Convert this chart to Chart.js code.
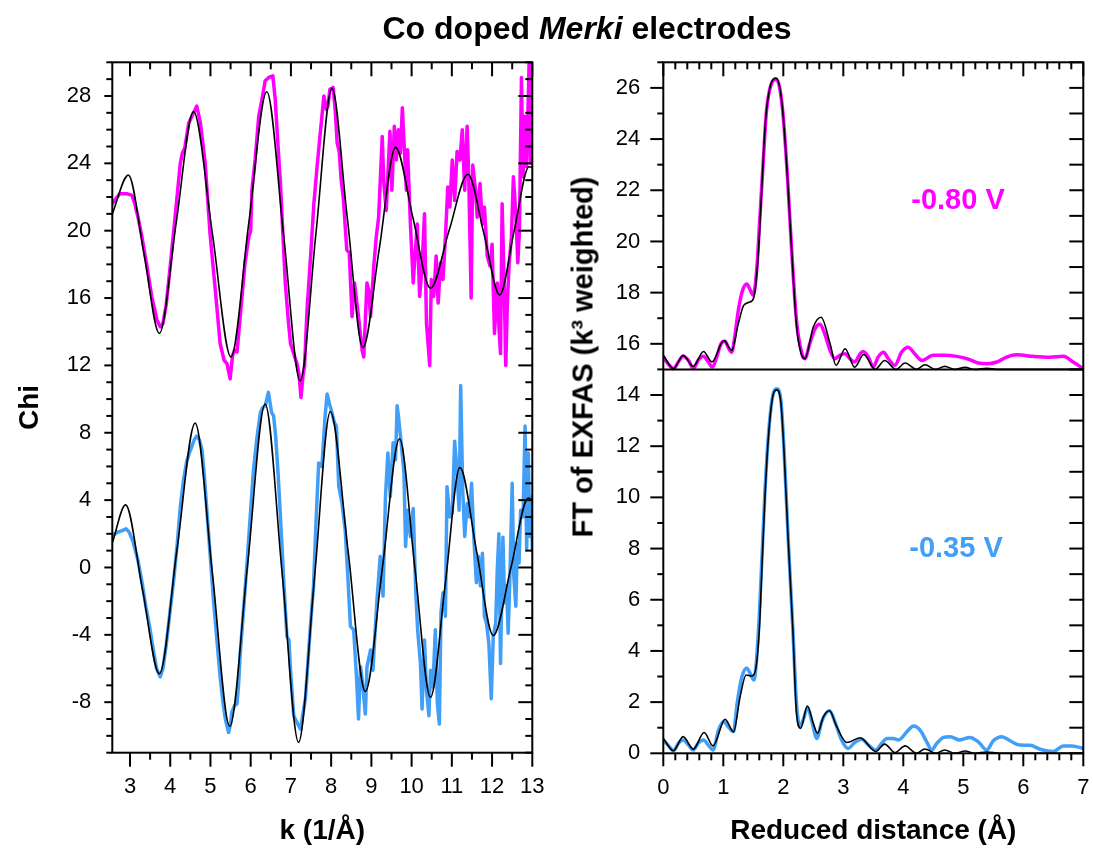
<!DOCTYPE html>
<html><head><meta charset="utf-8">
<script src="https://cdn.jsdelivr.net/npm/chart.js@4.4.1/dist/chart.umd.min.js"></script>
<style>
html,body{margin:0;padding:0;background:#fff;}
#wrap{position:relative;width:1093px;height:848px;overflow:hidden;background:#fff;font-family:'Liberation Sans',Arial,sans-serif;color:#000;}
canvas{position:absolute;top:0;}
#title{position:absolute;left:587px;top:28px;transform:translate(-50%,-50%);font-weight:bold;font-size:32px;white-space:nowrap;}
.lbl{position:absolute;transform:translate(-50%,-50%);font-weight:bold;white-space:nowrap;}
#ftlab{position:absolute;left:583px;top:357px;transform:translate(-50%,-50%) rotate(-90deg);font-weight:bold;font-size:29px;white-space:nowrap;}
</style></head><body>
<div id="wrap">
<canvas id="cL" width="600" height="848" style="left:0;width:600px;height:848px"></canvas>
<canvas id="cR" width="580" height="848" style="left:560px;width:580px;height:848px"></canvas>
<div id="title">Co doped <i>Merki</i> electrodes</div>
<div id="ftlab">FT of EXFAS (k³ weighted)</div>
<div class="lbl" style="left:958px;top:199px;color:#ff00ff;font-size:29px">-0.80 V</div>
<div class="lbl" style="left:956px;top:547px;color:#419ff7;font-size:29px">-0.35 V</div>
</div>
<script>
// ---------- Left panel: Chi(k) ----------
const kTicks = [3,4,5,6,7,8,9,10,11,12,13];
const chiTicks = [-8,-4,0,4,8,12,16,20,24,28];

const kFitMag   = [2.56,2.96,3.35,3.73,4.15,4.58,5.05,5.51,5.95,6.40,6.82,7.23,7.62,8.02,8.40,8.79,9.20,9.60,10.03,10.47,10.93,11.40,11.80,12.19,12.55,12.92,13.0];
const chiFitMag = [21.0,23.3,18.6,13.9,20.5,27.06,19.8,12.5,20.4,28.25,19.7,11.08,19.8,28.45,20.8,13.06,19.0,24.95,20.8,16.58,20.0,23.35,19.8,16.18,20.0,23.8,23.75];

const kFitBlue   = [2.56,2.89,3.31,3.73,4.17,4.62,5.05,5.48,5.92,6.36,6.78,7.19,7.59,7.98,8.42,8.85,9.28,9.70,10.08,10.47,10.84,11.20,11.62,12.03,12.47,12.90,13.0];
const chiFitBlue = [1.45,3.72,-1.3,-6.31,1.1,8.57,-0.4,-9.43,0.1,9.7,-0.3,-10.38,-0.5,9.26,1.0,-7.36,0.1,7.64,0.0,-7.71,-0.9,5.93,0.9,-4.04,0.0,4.12,4.0];

const kMag = [2.56,2.65,2.75,2.92,3.05,3.12,3.2,3.3,3.42,3.54,3.67,3.75,3.82,3.9,4.0,4.12,4.25,4.3,4.36,4.46,4.58,4.66,4.75,4.87,4.99,5.12,5.24,5.34,5.41,5.49,5.55,5.6,5.66,5.74,5.86,5.95,6.0,6.03,6.11,6.2,6.28,6.36,6.45,6.55,6.61,6.68,6.74,6.8,6.86,6.93,6.99,7.07,7.15,7.2,7.25,7.3,7.34,7.4,7.49,7.57,7.65,7.73,7.82,7.88,7.92,7.97,8.05,8.1,8.15,8.2,8.25,8.3,8.39,8.45,8.52,8.58,8.64,8.68,8.77,8.81,8.89,8.93,8.98,9.06,9.12,9.18,9.27,9.31,9.37,9.46,9.51,9.57,9.62,9.67,9.72,9.77,9.82,9.87,9.9,9.97,10.04,10.14,10.2,10.26,10.32,10.37,10.45,10.49,10.55,10.61,10.66,10.72,10.78,10.84,10.9,10.95,11.01,11.07,11.13,11.2,11.26,11.32,11.38,11.42,11.48,11.52,11.59,11.63,11.7,11.76,11.81,11.88,11.95,12.0,12.06,12.13,12.17,12.21,12.25,12.3,12.34,12.38,12.42,12.48,12.53,12.59,12.64,12.68,12.73,12.77,12.81,12.86,12.92,12.96,13.0];
const chiMag = [21.6,21.9,22.2,22.2,22.1,21.6,20.8,19.6,17.9,16.1,14.7,14.3,14.5,15.6,17.9,20.8,24.0,24.6,24.9,26.4,27.0,27.4,26.4,24.0,19.8,16.5,13.3,12.3,12.1,11.2,12.6,12.9,12.8,14.9,18.1,19.6,20.0,22.4,24.2,26.8,27.8,28.9,29.1,29.2,27.8,25.0,22.8,19.8,16.9,14.8,13.3,12.7,12.1,11.5,10.1,11.4,12.0,15.3,18.5,21.6,23.8,25.8,28.0,27.2,27.4,28.4,28.5,27.2,25.2,24.7,23.0,22.0,18.85,18.7,14.9,16.9,15.7,14.9,12.9,12.5,16.9,16.5,14.9,17.9,19.6,20.8,25.6,22.8,21.2,25.9,22.4,26.2,24.2,26.0,24.6,27.3,24.8,22.4,24.8,20.4,16.9,20.4,16.1,17.9,21.0,14.5,12.0,17.1,16.1,18.5,15.7,18.1,17.1,19.6,22.6,21.4,24.2,21.8,24.7,24.2,26.0,22.4,26.2,23.2,16.0,23.9,22.4,20.8,22.8,20.4,21.4,18.5,17.9,19.2,13.9,16.9,14.3,12.7,21.6,16.9,12.0,15.7,17.9,19.6,23.2,21.0,18.1,20.0,29.1,23.2,26.8,23.8,29.9,24.0,30.0];

const kBlue = [2.56,2.7,2.82,2.9,2.98,3.08,3.2,3.3,3.4,3.48,3.58,3.66,3.75,3.82,3.9,4.0,4.08,4.17,4.25,4.33,4.41,4.49,4.54,4.6,4.66,4.72,4.79,4.85,4.91,5.0,5.08,5.16,5.24,5.31,5.37,5.45,5.5,5.53,5.6,5.66,5.7,5.74,5.82,5.91,5.99,6.07,6.15,6.24,6.3,6.36,6.44,6.52,6.57,6.62,6.68,6.74,6.82,6.9,6.95,6.99,7.07,7.15,7.24,7.29,7.36,7.44,7.5,7.56,7.62,7.69,7.77,7.85,7.9,7.96,8.02,8.08,8.13,8.19,8.27,8.35,8.42,8.48,8.56,8.63,8.68,8.73,8.79,8.85,8.89,8.98,9.04,9.07,9.14,9.22,9.29,9.35,9.41,9.47,9.54,9.6,9.64,9.68,9.74,9.81,9.85,9.9,9.97,10.04,10.1,10.15,10.22,10.26,10.32,10.37,10.43,10.47,10.53,10.59,10.64,10.69,10.73,10.78,10.84,10.88,10.95,11.01,11.07,11.12,11.18,11.22,11.27,11.32,11.38,11.44,11.49,11.55,11.61,11.66,11.71,11.76,11.81,11.86,11.92,11.98,12.03,12.09,12.13,12.17,12.21,12.27,12.31,12.36,12.4,12.44,12.5,12.54,12.59,12.63,12.67,12.71,12.77,12.82,12.86,12.9,12.94,12.98,13.0];
const chiBlue = [1.9,2.1,2.2,2.3,2.1,1.5,0.4,-0.9,-2.4,-3.4,-4.9,-6.0,-6.5,-6.0,-4.6,-2.5,-0.9,1.3,3.6,5.2,6.3,6.9,7.2,7.6,7.8,7.6,7.0,5.4,3.4,0.5,-2.1,-4.3,-6.5,-8.0,-9.0,-9.8,-9.3,-8.6,-8.2,-8.1,-6.9,-5.1,-2.6,0.3,3.1,5.8,7.6,9.2,9.5,9.6,10.4,9.2,9.0,7.8,5.6,3.0,-0.7,-4.1,-4.3,-6.1,-8.8,-9.2,-9.6,-8.8,-7.8,-5.0,-3.0,-1.2,2.5,6.2,6.0,9.0,10.3,9.7,9.2,8.6,8.4,4.8,3.8,2.2,-0.8,-3.5,-3.7,-6.5,-9.0,-5.9,-7.1,-8.7,-5.9,-4.9,-6.1,-4.7,-1.9,0.66,-1.7,4.2,6.8,4.2,7.4,6.4,9.6,8.8,7.4,5.6,1.25,3.4,1.84,3.5,-1.3,-3.7,-5.7,-8.4,-4.3,-7.3,-8.8,-6.1,-7.1,-3.7,-8.05,-9.3,-2.7,-1.5,-2.9,4.8,3.0,3.2,7.5,6.0,3.4,10.8,4.6,1.84,3.8,3.0,5.0,1.6,-0.9,0.66,-1.1,0.85,-2.9,-3.3,-4.5,-7.8,-4.1,-3.3,-0.1,2.0,-5.7,1.8,-2.1,-1.1,-3.9,-0.9,5.0,-0.5,-2.3,1.45,0.26,3.4,3.0,8.4,1.05,6.8,1.84,4.2,1.0];

// ---------- Right panel: FT ----------
const rTicks = [0,1,2,3,4,5,6,7];
const ftTicks = [0,2,4,6,8,10,12,14,16,18,20,22,24,26];

const rMag  = [0,0.08,0.17,0.25,0.33,0.42,0.5,0.58,0.67,0.75,0.82,0.89,0.96,1.03,1.08,1.14,1.19,1.25,1.32,1.39,1.44,1.5,1.56,1.61,1.67,1.72,1.81,1.88,1.94,2.0,2.07,2.14,2.22,2.31,2.36,2.44,2.53,2.61,2.69,2.78,2.86,2.94,3.03,3.11,3.19,3.28,3.33,3.42,3.5,3.58,3.67,3.75,3.86,3.97,4.08,4.19,4.31,4.5,4.67,4.89,5.06,5.25,5.39,5.56,5.72,5.89,6.17,6.44,6.67,6.83,7.0];
const ftMag = [15.48,15.22,15.03,15.29,15.51,15.35,15.03,15.35,15.51,15.29,15.09,15.48,16.0,16.1,15.87,15.67,16.26,17.3,18.08,18.34,18.15,17.9,18.99,20.95,23.29,25.1,26.21,26.34,26.0,24.85,22.5,19.64,16.91,15.61,15.42,16.0,16.59,16.76,16.39,15.74,15.42,15.55,15.61,15.42,15.29,15.61,15.7,15.48,15.09,15.48,15.67,15.42,15.16,15.67,15.87,15.61,15.35,15.55,15.55,15.51,15.42,15.25,15.22,15.29,15.48,15.57,15.51,15.48,15.51,15.29,15.03];

const rFitTop  = [0,0.17,0.33,0.5,0.67,0.81,1.01,1.14,1.25,1.34,1.44,1.51,1.58,1.64,1.7,1.8,1.88,1.95,2.0,2.07,2.14,2.22,2.3,2.36,2.5,2.63,2.78,2.88,3.03,3.19,3.34,3.53,3.69,3.88,4.03,4.22,4.36,4.54,4.69,4.86,5.03,5.19,5.39,5.6,7.0];
const ftFitTop = [15.55,15.03,15.55,15.12,15.7,15.29,16.13,15.74,16.78,17.5,17.63,17.82,19.38,22.0,24.6,26.2,26.38,25.9,24.85,22.5,19.64,16.7,15.6,15.42,16.66,17.04,16.0,15.16,15.81,15.09,15.58,15.0,15.35,15.0,15.25,15.0,15.18,15.0,15.12,15.0,15.08,15.0,15.04,15.0,15.0];

const rBlue  = [0,0.08,0.17,0.25,0.33,0.42,0.5,0.58,0.67,0.75,0.83,0.92,1.01,1.08,1.17,1.23,1.31,1.39,1.46,1.51,1.58,1.64,1.69,1.75,1.82,1.89,1.96,2.01,2.08,2.16,2.22,2.28,2.33,2.41,2.47,2.56,2.64,2.77,2.86,2.97,3.08,3.19,3.31,3.42,3.54,3.64,3.73,3.83,3.92,4.06,4.17,4.28,4.39,4.47,4.56,4.67,4.78,4.94,5.11,5.25,5.39,5.5,5.64,5.78,5.94,6.11,6.28,6.5,6.67,6.81,7.0];
const ftBlue = [0.52,0.32,0.1,0.39,0.52,0.32,0.13,0.39,0.52,0.32,0.13,0.91,1.24,1.04,0.84,1.95,2.99,3.32,3.06,2.86,4.55,7.41,10.02,12.36,13.92,14.24,13.79,11.97,8.45,4.81,1.95,1.04,1.3,1.79,1.3,0.58,1.24,1.66,1.24,0.52,0.19,0.42,0.55,0.32,0.13,0.39,0.58,0.58,0.52,0.84,1.07,0.91,0.45,0.13,0.39,0.62,0.65,0.52,0.62,0.45,0.13,0.49,0.65,0.49,0.32,0.31,0.16,0.07,0.29,0.29,0.19];

const rFitBot  = [0,0.17,0.33,0.5,0.68,0.83,1.03,1.17,1.28,1.38,1.47,1.53,1.6,1.65,1.7,1.76,1.83,1.89,1.96,2.01,2.08,2.16,2.22,2.29,2.4,2.5,2.57,2.67,2.77,2.89,3.06,3.28,3.54,3.69,3.86,4.03,4.22,4.36,4.54,4.69,4.86,5.03,5.19,5.39,5.61,7.0];
const ftFitBot = [0.58,0.1,0.65,0.16,0.81,0.29,1.33,0.84,2.21,3.06,3.02,3.19,4.81,7.6,10.3,12.6,14.0,14.2,13.7,11.9,8.4,4.8,1.56,0.97,1.85,1.17,0.78,1.43,1.66,1.04,0.42,0.61,0.07,0.36,0.03,0.29,0.0,0.17,0.0,0.13,0.0,0.09,0.0,0.05,0.0,0.0];

const MAGENTA = '#ff00ff', BLUE = '#419ff7';

Chart.defaults.font.family = "'Liberation Sans', Arial, sans-serif";
Chart.defaults.color = '#000';

function pts(xs, ys) { return xs.map((x, i) => ({ x: x, y: ys[i] })); }

const frameTicks = {
  id: 'frameTicks',
  afterDatasetsDraw(chart, args, o) {
    const { ctx, chartArea: a, scales: { x, y } } = chart;
    ctx.save();
    ctx.strokeStyle = '#000';
    ctx.lineWidth = 2;
    ctx.lineCap = 'butt';
    const seg = (x1, y1, x2, y2) => { ctx.beginPath(); ctx.moveTo(x1, y1); ctx.lineTo(x2, y2); ctx.stroke(); };
    const isMajor = (v, m) => Math.abs(v / m - Math.round(v / m)) < 1e-6;
    for (let i = 0; i < 500; i++) {
      const v = +(o.xStart + i * o.xStep).toFixed(6);
      if (v > x.max + 1e-9) break;
      if (v < x.min - 1e-9) continue;
      const mj = isMajor(v, o.xMajor);
      const px = x.getPixelForValue(v);
      seg(px, a.bottom, px, a.bottom + (mj ? o.bMaj : o.bMin));
      seg(px, a.top, px, a.top + (mj ? o.tMaj : o.tMin));
    }
    for (let i = 0; i < 500; i++) {
      const v = +(o.yStart + i * o.yStep).toFixed(6);
      if (v > y.max + 1e-9) break;
      if (v < y.min - 1e-9) continue;
      const mj = isMajor(v, o.yMajor);
      const py = y.getPixelForValue(v);
      seg(a.left - (mj ? o.lMaj : o.lMin), py, a.left, py);
      seg(a.right - (mj ? o.rMaj : o.rMin), py, a.right, py);
    }
    if (o.divider !== undefined) {
      const py = y.getPixelForValue(o.divider);
      seg(a.left, py, a.right, py);
    }
    ctx.strokeRect(a.left, a.top, a.right - a.left, a.bottom - a.top);
    ctx.restore();
  }
};

const tickFont = { size: 22 };
const titleFont = { size: 28, weight: 'bold' };

new Chart(document.getElementById('cL'), {
  type: 'line',
  data: { datasets: [
    { data: pts(kFitMag, chiFitMag), borderColor: '#000', borderWidth: 1.6, order: 0, cubicInterpolationMode: 'monotone' },
    { data: pts(kFitBlue, chiFitBlue), borderColor: '#000', borderWidth: 1.6, order: 0, cubicInterpolationMode: 'monotone' },
    { data: pts(kMag, chiMag), borderColor: MAGENTA, borderWidth: 3.5, order: 1, tension: 0 },
    { data: pts(kBlue, chiBlue), borderColor: BLUE, borderWidth: 3.5, order: 1, tension: 0 }
  ]},
  options: {
    responsive: false, animation: false, events: [], devicePixelRatio: 1,
    layout: { padding: { left: 0, top: 62.3, right: 67.7, bottom: 0 } },
    elements: { point: { radius: 0 }, line: { borderJoinStyle: 'round', borderCapStyle: 'round', fill: false } },
    plugins: {
      legend: { display: false }, tooltip: { enabled: false },
      frameTicks: { xStart: 2.5, xStep: 0.5, xMajor: 1, yStart: -11, yStep: 1, yMajor: 4,
        bMaj: 14, bMin: 7, tMaj: 14, tMin: 7, lMaj: 8, lMin: 6, rMaj: 14, rMin: 7 }
    },
    scales: {
      x: { type: 'linear', min: 2.56, max: 13,
        afterBuildTicks: s => { s.ticks = kTicks.map(v => ({ value: v })); },
        afterFit: s => { s.height = 95.3; },
        grid: { display: false, drawTicks: false }, border: { display: false },
        ticks: { autoSkip: false, maxRotation: 0, padding: 21, font: tickFont, color: '#000', callback: v => String(v) },
        title: { display: true, text: 'k (1/Å)', font: titleFont, color: '#000', padding: { top: 0, bottom: 0 } } },
      y: { type: 'linear', min: -11, max: 30,
        afterBuildTicks: s => { s.ticks = chiTicks.map(v => ({ value: v })); },
        afterFit: s => { s.width = 112.3; },
        grid: { display: false, drawTicks: false }, border: { display: false },
        ticks: { autoSkip: false, padding: 21, font: tickFont, color: '#000', callback: v => String(v) },
        title: { display: true, text: 'Chi', font: titleFont, color: '#000', padding: { top: 13, bottom: 0 } } }
    }
  },
  plugins: [frameTicks]
});

new Chart(document.getElementById('cR'), {
  type: 'line',
  data: { datasets: [
    { data: pts(rFitTop, ftFitTop), borderColor: '#000', borderWidth: 1.6, order: 0, cubicInterpolationMode: 'monotone' },
    { data: pts(rFitBot, ftFitBot), borderColor: '#000', borderWidth: 1.6, order: 0, cubicInterpolationMode: 'monotone' },
    { data: pts(rMag, ftMag), borderColor: MAGENTA, borderWidth: 3.5, order: 1, cubicInterpolationMode: 'monotone' },
    { data: pts(rBlue, ftBlue), borderColor: BLUE, borderWidth: 3.5, order: 1, cubicInterpolationMode: 'monotone' }
  ]},
  options: {
    responsive: false, animation: false, events: [], devicePixelRatio: 1,
    layout: { padding: { left: 0, top: 62.3, right: 56.7, bottom: 0 } },
    elements: { point: { radius: 0 }, line: { borderJoinStyle: 'round', borderCapStyle: 'round', fill: false } },
    plugins: {
      legend: { display: false }, tooltip: { enabled: false },
      frameTicks: { xStart: 0, xStep: 0.2, xMajor: 1, yStart: 0, yStep: 1, yMajor: 2,
        bMaj: 13, bMin: 7, tMaj: 14, tMin: 7, lMaj: 13, lMin: 6, rMaj: 14, rMin: 14, divider: 15 }
    },
    scales: {
      x: { type: 'linear', min: 0, max: 7,
        afterBuildTicks: s => { s.ticks = rTicks.map(v => ({ value: v })); },
        afterFit: s => { s.height = 94.7; },
        grid: { display: false, drawTicks: false }, border: { display: false },
        ticks: { autoSkip: false, maxRotation: 0, padding: 21, font: tickFont, color: '#000', callback: v => String(v) },
        title: { display: true, text: 'Reduced distance (Å)', font: titleFont, color: '#000', padding: { top: 0, bottom: 0 } } },
      y: { type: 'linear', min: 0, max: 27,
        afterBuildTicks: s => { s.ticks = ftTicks.map(v => ({ value: v })); },
        afterFit: s => { s.width = 103.3; },
        grid: { display: false, drawTicks: false }, border: { display: false },
        ticks: { autoSkip: false, padding: 23, font: tickFont, color: '#000', callback: v => String(v) } }
    }
  },
  plugins: [frameTicks]
});
</script>
</body></html>
